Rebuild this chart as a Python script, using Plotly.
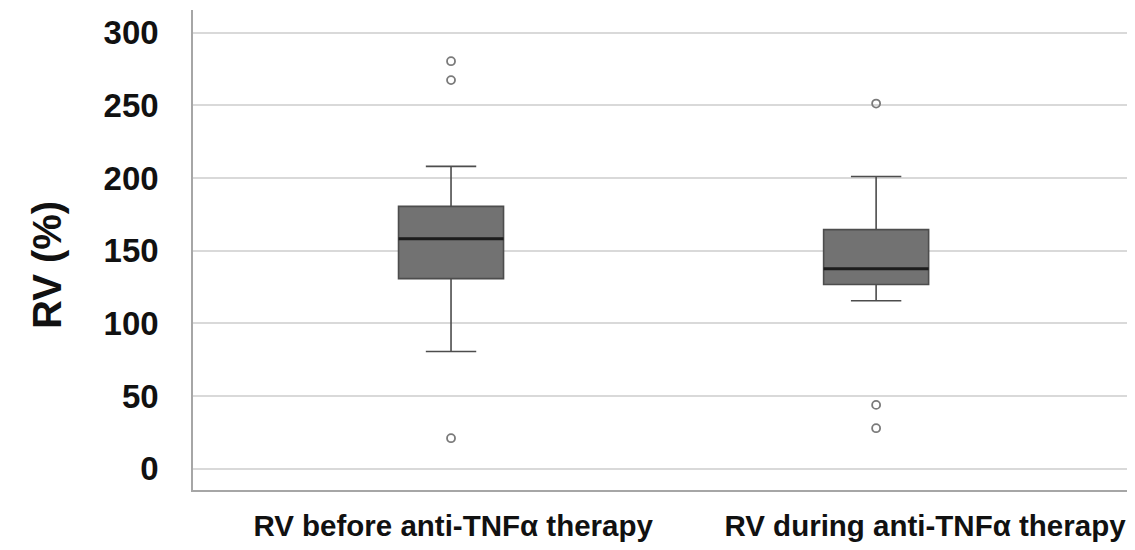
import plotly.graph_objects as go

# ---- data ----
categories = ["RV before anti-TNFα therapy", "RV during anti-TNFα therapy"]
positions = [0, 1]
label_positions = [0.005, 1.115]
lower_whisker = [80.7, 115.6]
q1_vals = [130.8, 126.8]
median_vals = [158.3, 137.6]
q3_vals = [180.5, 164.5]
upper_whisker = [208.0, 201.0]
outliers_before = [280.3, 267.3, 21.1]
outliers_during = [251.2, 44.0, 28.0]
y_ticks = [0, 50, 100, 150, 200, 250, 300]

BOX_W = 0.247
FONT = "Liberation Sans"

fig = go.Figure()

fig.add_trace(go.Box(
    x=positions,
    q1=q1_vals, median=median_vals, q3=q3_vals,
    lowerfence=lower_whisker, upperfence=upper_whisker,
    width=BOX_W, whiskerwidth=0.48,
    fillcolor="#727272",
    line=dict(color="#4d4d4d", width=1.6),
    boxpoints=False, showlegend=False, hoverinfo="skip",
))

# darker, thicker median line
mx, my = [], []
for p, m in zip(positions, median_vals):
    mx += [p - BOX_W / 2, p + BOX_W / 2, None]
    my += [m, m, None]
fig.add_trace(go.Scatter(x=mx, y=my, mode="lines",
                         line=dict(color="#1c1c1c", width=3),
                         showlegend=False, hoverinfo="skip"))

# outliers
ox = [positions[0]] * len(outliers_before) + [positions[1]] * len(outliers_during)
oy = outliers_before + outliers_during
fig.add_trace(go.Scatter(x=ox, y=oy, mode="markers",
                         marker=dict(symbol="circle-open", size=8,
                                     color="#7a7a7a", line=dict(width=1.8)),
                         showlegend=False, hoverinfo="skip"))

fig.update_layout(
    width=1127, height=542,
    margin=dict(l=185, r=0, t=2, b=60),
    paper_bgcolor="white", plot_bgcolor="white",
    xaxis=dict(
        range=[-0.607, 1.609],
        tickmode="array", tickvals=label_positions, ticktext=categories,
        tickfont=dict(family=FONT, size=29.5, color="#111111", weight="bold"),
        showgrid=False, zeroline=False,
        showline=True, linecolor="#a6a6a6", linewidth=1.5,
        ticks="outside", ticklen=9, tickcolor="rgba(0,0,0,0)",
    ),
    yaxis=dict(
        range=[-14.5, 315.5],
        tickmode="array", tickvals=y_ticks,
        tickfont=dict(family=FONT, size=33, color="#111111", weight="bold"),
        showgrid=True, gridcolor="#d9d9d9", gridwidth=2,
        zeroline=False,
        showline=True, linecolor="#a6a6a6", linewidth=1.5,
        ticks="outside", ticklen=26, tickcolor="rgba(0,0,0,0)",
    ),
    annotations=[dict(
        text="RV (%)", textangle=-90, showarrow=False,
        xref="paper", yref="paper", x=(47 - 193) / 942, y=(490 - 265) / 480,
        xanchor="center", yanchor="middle",
        font=dict(family=FONT, size=40, color="#111111", weight="bold"),
    )],
)

fig.write_html("out.html")
